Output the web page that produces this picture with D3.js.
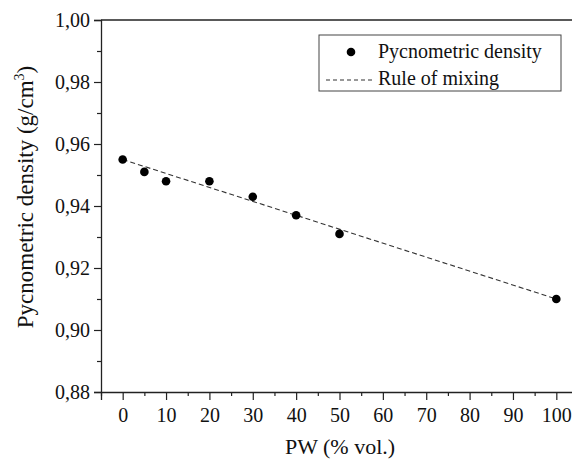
<!DOCTYPE html>
<html><head><meta charset="utf-8">
<script src="https://cdn.jsdelivr.net/npm/d3@7"></script>
<style>body{margin:0;background:#fff}svg{display:block}text{font-family:"Liberation Serif","Times New Roman",serif;fill:#111}</style>
</head><body>
<svg id="c" width="572" height="459"></svg>
<script>
const pwValues = [0, 5, 10, 20, 30, 40, 50, 100];
const densityValues = [0.955, 0.951, 0.948, 0.948, 0.943, 0.937, 0.931, 0.910];
const mixingX = [0, 100];
const mixingY = [0.955, 0.910];
const xTicks = [0, 10, 20, 30, 40, 50, 60, 70, 80, 90, 100];
const yTicks = [0.88, 0.90, 0.92, 0.94, 0.96, 0.98, 1.00];
const legendLabels = ["Pycnometric density", "Rule of mixing"];

const svg = d3.select("#c");
const L = 101, R = 578, T = 20, B = 392;
const x = d3.scaleLinear().domain([-5, 105]).range([L, R]);
const y = d3.scaleLinear().domain([0.88, 1.00]).range([B, T]);
const fmt = d => d3.format(".2f")(d).replace(".", ",");

// frame top
svg.append("line").attr("x1", L).attr("x2", 572).attr("y1", T).attr("y2", T).attr("stroke", "#222").attr("stroke-width", 1.3);

// x axis
const xMinor = d3.range(-5, 106, 10);
const gx = svg.append("g").attr("transform", `translate(0,${B})`);
gx.call(d3.axisBottom(x).tickValues(xTicks).tickSize(8).tickPadding(8).tickFormat(d3.format("d")));
const gxm = svg.append("g").attr("transform", `translate(0,${B})`);
gxm.call(d3.axisBottom(x).tickValues(xMinor).tickSize(4).tickFormat(""));
gxm.select(".domain").remove();

// y axis
const yMinor = d3.range(0.89, 1.0, 0.02);
const gy = svg.append("g").attr("transform", `translate(${L},0)`);
gy.call(d3.axisLeft(y).tickValues(yTicks).tickSize(7).tickPadding(4).tickFormat(fmt));
const gym = svg.append("g").attr("transform", `translate(${L},0)`);
gym.call(d3.axisLeft(y).tickValues(yMinor).tickSize(4).tickFormat(""));
gym.select(".domain").remove();

svg.selectAll(".domain").attr("stroke", "#222").attr("stroke-width", 1.3);
svg.selectAll(".tick line").attr("stroke", "#222").attr("stroke-width", 1.2);
svg.selectAll(".tick text").style("font-size", "20px").attr("fill", "#111");

// rule of mixing
const line = d3.line().x(d => x(d[0])).y(d => y(d[1]));
svg.append("path").datum(d3.zip(mixingX, mixingY)).attr("d", line)
  .attr("fill", "none").attr("stroke", "#333").attr("stroke-width", 1.1).attr("stroke-dasharray", "5,3");

// points
svg.selectAll("circle.pt").data(d3.zip(pwValues, densityValues)).join("circle")
  .attr("class", "pt").attr("cx", d => x(d[0])).attr("cy", d => y(d[1])).attr("r", 4.3).attr("fill", "#000");

// axis titles
svg.append("text").attr("x", 340).attr("y", 454).attr("text-anchor", "middle")
  .style("font-size", "22px").text("PW (% vol.)");
const yt = svg.append("text").attr("transform", `translate(33,197) rotate(-90)`).attr("text-anchor", "middle").style("font-size", "23px");
yt.append("tspan").text("Pycnometric density (g/cm");
yt.append("tspan").attr("dy", -9).style("font-size", "14px").text("3");
yt.append("tspan").attr("dy", 9).text(")");

// legend
const lg = svg.append("g");
lg.append("rect").attr("x", 319).attr("y", 35).attr("width", 242).attr("height", 56).attr("fill", "#fff").attr("stroke", "#444").attr("stroke-width", 1);
lg.append("circle").attr("cx", 351).attr("cy", 52).attr("r", 4.3).attr("fill", "#000");
lg.append("line").attr("x1", 326).attr("x2", 373).attr("y1", 80).attr("y2", 80).attr("stroke", "#333").attr("stroke-width", 1.1).attr("stroke-dasharray", "4,3");
lg.selectAll("text.lg").data(legendLabels).join("text").attr("class", "lg")
  .attr("x", 378).attr("y", (d, i) => 58 + i * 27).style("font-size", "20px").text(d => d);
</script>
</body></html>
